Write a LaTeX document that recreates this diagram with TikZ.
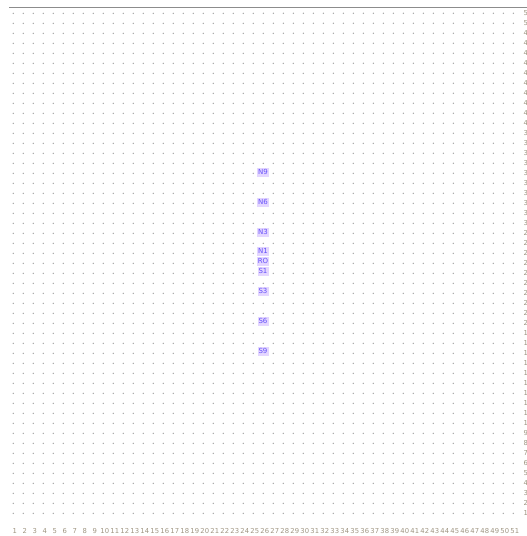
\documentclass[tikz,border=0pt]{standalone}
\usepackage{fontspec}
\setmainfont{DejaVu Sans}
\definecolor{dotgray}{RGB}{165,165,165}
\definecolor{axisbrown}{RGB}{160,150,130}
\definecolor{markertext}{RGB}{100,80,250}
\definecolor{markerfill}{RGB}{228,214,255}
\begin{document}
\begin{tikzpicture}[x=1pt,y=-1pt,
  griddot/.style={fill=dotgray},
  axislabel/.style={font=\fontsize{6.8}{7}\selectfont, text=axisbrown, inner sep=0pt},
  marker/.style={font=\fontsize{7}{8}\selectfont, text=markertext, fill=markerfill, inner sep=1pt, minimum width=11pt, minimum height=9pt}]
\useasboundingbox (0,0) rectangle (527,536);
\clip (0,0) rectangle (527,536);
\fill[white] (0,0) rectangle (527,536);
\draw[black!45, line width=0.8pt] (9,7) -- (527,7);
\foreach \i in {0,...,50}{
  \foreach \j in {0,...,50}{
    \fill[griddot] (13.3+10*\i,13.3+10*\j) circle (0.75);
  }
}
\foreach \i in {1,...,51}{
  \node[axislabel] (bx\i) at (13.3+10*\i-10+1.5,531) {\i};
  \pgfmathtruncatemacro{\r}{52-\i}
  \node[axislabel, anchor=west] (ry\i) at (523.5,13.3+10*\i-10) {\r};
}
\node[marker] (N9) at (263,172) {N9};
\node[marker] (N6) at (263,202) {N6};
\node[marker] (N3) at (263,232) {N3};
\node[marker] (N1) at (263,251) {N1};
\node[marker] (RO) at (263,261) {RO};
\node[marker] (S1) at (263,271) {S1};
\node[marker] (S3) at (263,291) {S3};
\node[marker] (S6) at (263,321) {S6};
\node[marker] (S9) at (263,351) {S9};
\end{tikzpicture}
\end{document}
